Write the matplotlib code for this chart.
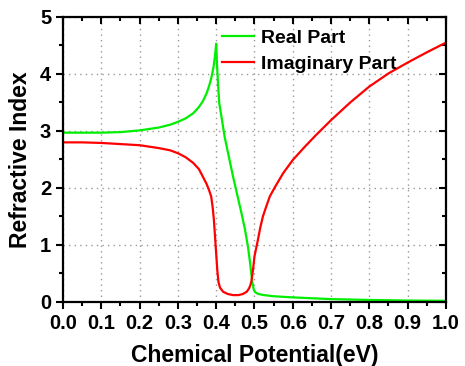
import matplotlib.pyplot as plt
from matplotlib.ticker import MultipleLocator

plt.rcParams['font.family'] = ['Liberation Sans', 'DejaVu Sans']
plt.rcParams['font.weight'] = 'bold'

# real part of the refractive index vs chemical potential
mu_real = [0.0, 0.05, 0.1, 0.15, 0.2, 0.25, 0.28, 0.3, 0.32, 0.34, 0.355, 0.365,
           0.375, 0.382, 0.388, 0.393, 0.397, 0.4, 0.402, 0.405, 0.408, 0.415,
           0.422, 0.433, 0.444, 0.455, 0.466, 0.475, 0.483, 0.489, 0.494, 0.498,
           0.502, 0.51, 0.525, 0.55, 0.6, 0.7, 0.8, 0.9, 1.0]
n_real = [2.97, 2.97, 2.97, 2.98, 3.01, 3.06, 3.11, 3.16, 3.22, 3.31, 3.42, 3.52,
          3.66, 3.80, 3.95, 4.12, 4.32, 4.53, 4.20, 3.80, 3.49, 3.20,
          2.90, 2.55, 2.20, 1.88, 1.56, 1.28, 0.97, 0.66, 0.36, 0.22,
          0.17, 0.14, 0.12, 0.10, 0.08, 0.05, 0.035, 0.025, 0.02]

# imaginary part
mu_imag = [0.0, 0.05, 0.1, 0.15, 0.2, 0.25, 0.28, 0.3, 0.32, 0.34, 0.355, 0.365,
           0.375, 0.382, 0.387, 0.391, 0.394, 0.397, 0.4, 0.403, 0.406, 0.41,
           0.418, 0.43, 0.444, 0.458, 0.47, 0.48, 0.486, 0.489, 0.492, 0.496,
           0.5, 0.509, 0.515, 0.522, 0.53, 0.54, 0.553, 0.575, 0.6, 0.631,
           0.661, 0.7, 0.75, 0.8, 0.85, 0.9, 0.95, 1.0]
n_imag = [2.80, 2.80, 2.79, 2.77, 2.75, 2.70, 2.66, 2.61, 2.54, 2.44, 2.33, 2.20,
          2.07, 1.95, 1.85, 1.65, 1.44, 1.15, 0.85, 0.55, 0.35, 0.25,
          0.18, 0.14, 0.12, 0.12, 0.14, 0.18, 0.24, 0.29, 0.36, 0.55,
          0.80, 1.09, 1.30, 1.50, 1.66, 1.85, 2.01, 2.26, 2.49, 2.72,
          2.93, 3.19, 3.50, 3.78, 4.01, 4.20, 4.38, 4.55]

xtick_vals = [0.0, 0.1, 0.2, 0.3, 0.4, 0.5, 0.6, 0.7, 0.8, 0.9, 1.0]
xtick_text = ['0.0', '0.1', '0.2', '0.3', '0.4', '0.5', '0.6', '0.7', '0.8', '0.9', '1.0']
ytick_vals = [0, 1, 2, 3, 4, 5]
ytick_text = ['0', '1', '2', '3', '4', '5']

fig = plt.figure(figsize=(4.65, 3.66), dpi=100)
ax = fig.add_axes([0.1355, 0.175, 0.8235, 0.7786])

ax.plot(mu_real, n_real, color='#00ee00', lw=1.6, label='Real Part')
ax.plot(mu_imag, n_imag, color='#ff0000', lw=1.6, label='Imaginary Part')

ax.set_xlim(0, 1.0)
ax.set_ylim(0, 5)
ax.set_xticks(xtick_vals)
ax.set_xticklabels(xtick_text, fontweight='bold', fontsize=14.5)
ax.set_yticks(ytick_vals)
ax.set_yticklabels(ytick_text, fontweight='bold', fontsize=14.5)
ax.xaxis.set_minor_locator(MultipleLocator(0.05))
ax.yaxis.set_minor_locator(MultipleLocator(0.5))

ax.grid(True, which='major', color='#999999', linestyle=(0, (1, 3)), lw=1.0)
ax.tick_params(which='both', direction='out', width=1.5, top=True, right=True)
ax.tick_params(which='major', length=5)
ax.tick_params(which='minor', length=3)
# ticks on the top and right spines point inward
for t in ax.xaxis.get_major_ticks() + ax.xaxis.get_minor_ticks():
    t.tick2line.set_marker(3)
for t in ax.yaxis.get_major_ticks() + ax.yaxis.get_minor_ticks():
    t.tick2line.set_marker(0)
for s in ax.spines.values():
    s.set_linewidth(1.6)

ax.set_xlabel('Chemical Potential(eV)', fontsize=16.5, fontweight='bold', labelpad=8)
ax.set_ylabel('Refractive Index', fontsize=16.5, fontweight='bold', labelpad=6)

leg = ax.legend(loc='upper left', bbox_to_anchor=(0.396, 0.985), frameon=False,
                prop={'size': 14, 'weight': 'bold'}, handlelength=1.6,
                handletextpad=0.4, labelspacing=0.45, borderaxespad=0)

fig.savefig('out.png', dpi=100)
